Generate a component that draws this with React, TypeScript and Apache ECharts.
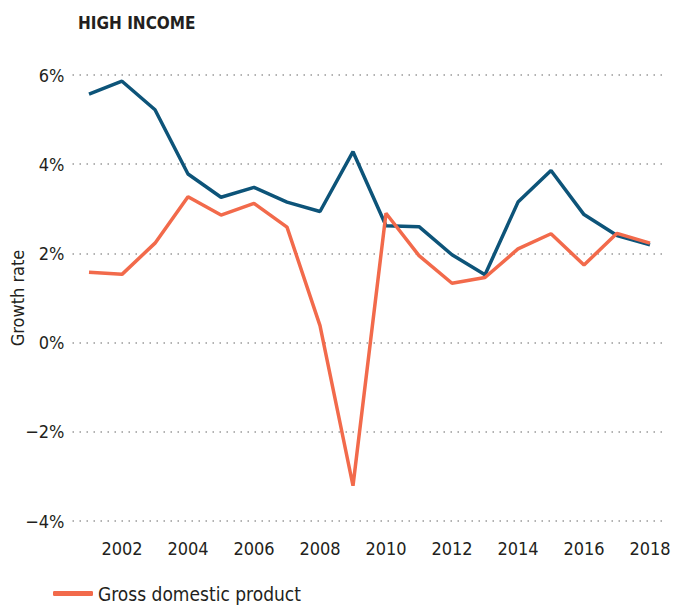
import React, { useEffect, useRef } from "react";
import * as echarts from "echarts";

const years = ["2001","2002","2003","2004","2005","2006","2007","2008","2009","2010","2011","2012","2013","2014","2015","2016","2017","2018"];
const gdp = [1.58,1.53,2.23,3.27,2.86,3.12,2.59,0.38,-3.21,2.90,1.95,1.33,1.46,2.10,2.44,1.74,2.45,2.23];
const other = [5.57,5.86,5.22,3.78,3.26,3.48,3.15,2.94,4.28,2.62,2.60,1.97,1.52,3.15,3.86,2.87,2.40,2.19];
const title = "HIGH INCOME";
const yName = "Growth rate";
const gdpName = "Gross domestic product";
const otherName = "Other measure";

const FONT = "'DejaVu Sans Condensed', sans-serif";

export default function App() {
  const ref = useRef<HTMLDivElement>(null);
  useEffect(() => {
    const chart = echarts.init(ref.current!, null, { renderer: "svg" });
    chart.setOption({
      animation: false,
      textStyle: { fontFamily: FONT },
      title: {
        text: title,
        left: 73,
        top: 9,
        textStyle: { fontFamily: FONT, fontSize: 17, fontWeight: "bold", color: "#231f20" },
      },
      legend: {
        data: [gdpName],
        left: 48,
        top: 579,
        icon: "roundRect",
        itemWidth: 40,
        itemHeight: 5,
        itemGap: 10,
        textStyle: { fontFamily: FONT, fontSize: 19, color: "#231f20" },
      },
      grid: { left: 72.5, width: 594, top: 75, height: 446, outerBoundsMode: "none", containLabel: false },
      xAxis: {
        type: "category",
        data: years,
        boundaryGap: true,
        axisLine: { show: false },
        axisTick: { show: false },
        axisLabel: {
          interval: (i: number) => i % 2 === 1,
          margin: 18,
          fontFamily: FONT,
          fontSize: 18,
          color: "#231f20",
        },
      },
      yAxis: {
        type: "value",
        min: -4,
        max: 6,
        interval: 2,
        name: yName,
        nameLocation: "middle",
        nameGap: 46,
        nameMoveOverlap: false,
        nameTextStyle: { fontFamily: FONT, fontSize: 18, color: "#231f20" },
        axisLine: { show: false },
        axisTick: { show: false },
        axisLabel: {
          margin: 8,
          fontFamily: FONT,
          fontSize: 18,
          color: "#231f20",
          formatter: (v: number) => (v < 0 ? "\u2212" + Math.abs(v) : String(v)) + "%",
        },
        splitLine: { lineStyle: { type: [1.5, 5.5], width: 1.5, color: "#999" } },
      },
      series: [
        {
          name: otherName,
          type: "line",
          data: other,
          symbol: "none",
          lineStyle: { width: 3.5, color: "#0d5479" },
          itemStyle: { color: "#0d5479" },
        },
        {
          name: gdpName,
          type: "line",
          data: gdp,
          symbol: "none",
          lineStyle: { width: 3.5, color: "#f26a4b" },
          itemStyle: { color: "#f26a4b" },
          z: 3,
        },
      ],
    });
    return () => chart.dispose();
  }, []);
  return <div ref={ref} style={{ width: 691, height: 606, position: "absolute", left: 0, top: 0 }} />;
}
